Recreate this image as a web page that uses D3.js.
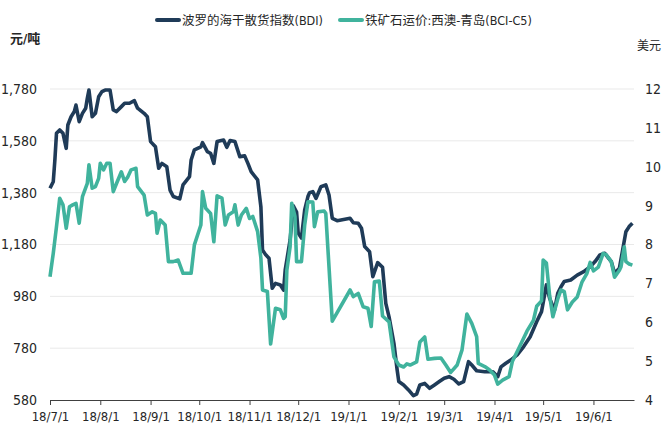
<!DOCTYPE html>
<html>
<head>
<meta charset="utf-8">
<script src="https://cdn.jsdelivr.net/npm/d3@7"></script>
<style>
  body { margin: 0; background: #fff; }
  text { font-family: "Liberation Sans Narrow", "DejaVu Sans Condensed", "Noto Sans CJK SC", sans-serif; fill: #262626; }
</style>
</head>
<body>
<div id="chart"></div>
<script>
const W = 663, H = 430
const plot = { left: 50, right: 634, top: 89, bottom: 400 }

const seriesNames = ["波罗的海干散货指数(BDI)", "铁矿石运价:西澳-青岛(BCI-C5)"]
const seriesColors = ["#1f3b58", "#40b39d"]
const leftTicks = [580, 780, 980, 1180, 1380, 1580, 1780]
const rightTicks = [4, 5, 6, 7, 8, 9, 10, 11, 12]

const bdiDates = ["2018-07-01","2018-07-03","2018-07-04","2018-07-05","2018-07-07","2018-07-09","2018-07-11","2018-07-12","2018-07-14","2018-07-16",
  "2018-07-17","2018-07-19","2018-07-21","2018-07-23","2018-07-24","2018-07-25","2018-07-27","2018-07-29","2018-07-31","2018-08-02",
  "2018-08-04","2018-08-07","2018-08-09","2018-08-11","2018-08-14","2018-08-16","2018-08-19","2018-08-22","2018-08-24","2018-08-28",
  "2018-08-30","2018-09-01","2018-09-04","2018-09-06","2018-09-08","2018-09-11","2018-09-13","2018-09-15","2018-09-19","2018-09-21",
  "2018-09-25","2018-09-26","2018-09-28","2018-10-02","2018-10-03","2018-10-06","2018-10-08","2018-10-10","2018-10-12","2018-10-16",
  "2018-10-18","2018-10-20","2018-10-23","2018-10-26","2018-10-29","2018-10-31","2018-11-02","2018-11-06","2018-11-08","2018-11-09",
  "2018-11-11","2018-11-13","2018-11-15","2018-11-17","2018-11-20","2018-11-22","2018-11-23","2018-11-26","2018-11-28","2018-11-30",
  "2018-12-01","2018-12-03","2018-12-05","2018-12-07","2018-12-08","2018-12-10","2018-12-12","2018-12-15","2018-12-18","2018-12-20",
  "2018-12-22","2018-12-25","2019-01-02","2019-01-04","2019-01-07","2019-01-09","2019-01-11","2019-01-14","2019-01-16","2019-01-19",
  "2019-01-22","2019-01-24","2019-01-26","2019-01-29","2019-01-31","2019-02-01","2019-02-04","2019-02-07","2019-02-10","2019-02-12",
  "2019-02-14","2019-02-17","2019-02-20","2019-02-23","2019-02-26","2019-03-01","2019-03-04","2019-03-07","2019-03-10","2019-03-13",
  "2019-03-16","2019-03-18","2019-03-21","2019-03-26","2019-03-31","2019-04-03","2019-04-05","2019-04-08","2019-04-11","2019-04-15",
  "2019-04-19","2019-04-23","2019-04-27","2019-04-30","2019-05-03","2019-05-05","2019-05-08","2019-05-10","2019-05-12","2019-05-14",
  "2019-05-18","2019-05-22","2019-05-26","2019-05-30","2019-06-02","2019-06-05","2019-06-08","2019-06-12","2019-06-14","2019-06-17",
  "2019-06-19","2019-06-21","2019-06-23","2019-06-25"]
const bdiValues = [1397,1422,1506,1609,1622,1609,1551,1641,1673,1693,
  1718,1654,1686,1706,1744,1776,1673,1686,1750,1770,
  1776,1776,1699,1693,1712,1725,1725,1735,1706,1686,
  1673,1577,1557,1474,1493,1480,1390,1365,1356,1410,
  1442,1506,1545,1557,1573,1538,1532,1493,1577,1583,
  1555,1581,1577,1519,1522,1493,1461,1429,1326,1159,
  1140,1127,1011,1030,1024,1004,1082,1197,1329,1305,
  1224,1205,1313,1365,1380,1384,1358,1403,1410,1371,
  1281,1272,1281,1264,1262,1243,1172,1152,1056,1110,
  1092,953,901,799,696,651,638,619,597,603,
  638,644,625,638,651,664,670,660,642,651,
  728,715,693,689,689,670,708,722,734,754,
  786,824,882,921,1024,972,927,992,1017,1037,
  1043,1062,1075,1094,1114,1140,1146,1114,1069,1088,
  1159,1229,1249,1262]

const c5Dates = ["2018-07-01","2018-07-03","2018-07-05","2018-07-07","2018-07-09","2018-07-11","2018-07-13","2018-07-15","2018-07-17","2018-07-19",
  "2018-07-21","2018-07-24","2018-07-25","2018-07-27","2018-07-29","2018-07-31","2018-08-01","2018-08-03","2018-08-05","2018-08-07",
  "2018-08-09","2018-08-11","2018-08-14","2018-08-16","2018-08-18","2018-08-20","2018-08-23","2018-08-24","2018-08-28","2018-08-30",
  "2018-09-02","2018-09-04","2018-09-05","2018-09-07","2018-09-10","2018-09-12","2018-09-15","2018-09-18","2018-09-21","2018-09-26",
  "2018-09-28","2018-10-02","2018-10-03","2018-10-05","2018-10-08","2018-10-10","2018-10-12","2018-10-15","2018-10-17","2018-10-19",
  "2018-10-22","2018-10-23","2018-10-25","2018-10-27","2018-10-30","2018-11-01","2018-11-03","2018-11-06","2018-11-08","2018-11-09",
  "2018-11-12","2018-11-14","2018-11-17","2018-11-20","2018-11-22","2018-11-23","2018-11-24","2018-11-26","2018-11-27","2018-11-29",
  "2018-11-30","2018-12-03","2018-12-05","2018-12-07","2018-12-10","2018-12-11","2018-12-13","2018-12-17","2018-12-18","2018-12-22",
  "2019-01-02","2019-01-04","2019-01-07","2019-01-10","2019-01-13","2019-01-15","2019-01-17","2019-01-20","2019-01-22","2019-01-26",
  "2019-01-29","2019-02-01","2019-02-04","2019-02-06","2019-02-08","2019-02-12","2019-02-14","2019-02-17","2019-02-19","2019-02-23",
  "2019-02-27","2019-03-02","2019-03-05","2019-03-09","2019-03-12","2019-03-15","2019-03-18","2019-03-21","2019-03-22","2019-03-26",
  "2019-03-29","2019-04-01","2019-04-03","2019-04-06","2019-04-10","2019-04-12","2019-04-16","2019-04-21","2019-04-25","2019-04-27",
  "2019-04-30","2019-05-01","2019-05-03","2019-05-05","2019-05-07","2019-05-10","2019-05-12","2019-05-14","2019-05-16","2019-05-19",
  "2019-05-22","2019-05-25","2019-05-28","2019-05-30","2019-06-01","2019-06-04","2019-06-07","2019-06-09","2019-06-12","2019-06-14",
  "2019-06-17","2019-06-18","2019-06-20","2019-06-21","2019-06-23","2019-06-25"]
const c5Values = [7.17,7.77,8.46,9.19,9.02,8.42,8.97,9.02,9.06,8.55,
  9.23,9.57,10.05,9.45,9.49,9.70,10.09,9.92,10.09,10.09,
  9.36,9.57,9.87,9.62,9.74,9.92,9.96,9.49,9.27,8.76,
  8.84,8.80,8.29,8.63,8.50,7.56,7.56,7.60,7.26,7.26,
  7.99,8.50,9.36,8.93,8.80,8.07,9.25,9.19,8.50,8.76,
  8.84,9.02,8.50,8.76,8.93,8.67,8.72,8.33,7.65,6.83,
  6.79,5.44,6.36,6.32,6.10,6.14,7.34,7.94,9.06,8.72,
  7.56,7.56,8.50,9.10,9.09,8.46,8.84,8.86,8.80,6.03,
  6.83,6.66,6.74,6.40,6.36,5.89,7.04,7.06,6.16,6.01,
  5.11,4.90,4.85,4.93,4.90,4.98,5.49,5.62,5.05,5.07,
  5.08,4.90,4.71,4.90,5.29,6.21,5.97,5.63,4.94,4.86,
  4.77,4.64,4.41,4.51,4.60,4.99,5.33,5.77,6.05,6.41,
  6.55,7.60,7.52,6.68,6.14,6.60,6.83,6.79,6.32,6.52,
  6.65,7.04,7.26,7.54,7.32,7.42,7.77,7.73,7.56,7.16,
  7.34,7.43,7.94,7.56,7.50,7.47]

const parse = d3.timeParse("%Y-%m-%d")
const bdi = bdiDates.map((d, i) => ({ date: parse(d), value: bdiValues[i] }))
const c5 = c5Dates.map((d, i) => ({ date: parse(d), value: c5Values[i] }))

const svg = d3.select("#chart").append("svg")
    .attr("width", W)
    .attr("height", H)

svg.append("rect").attr("width", W).attr("height", H).attr("fill", "#fff")

const x = d3.scaleTime()
    .domain([parse("2018-07-01"), parse("2019-06-26")])
    .range([plot.left, plot.right])
const yLeft = d3.scaleLinear().domain([580, 1780]).range([plot.bottom, plot.top])
const yRight = d3.scaleLinear().domain([4, 12]).range([plot.bottom, plot.top])

// gridlines
svg.append("g").selectAll("line")
    .data(leftTicks.slice(1))
    .join("line")
    .attr("x1", plot.left).attr("x2", plot.right)
    .attr("y1", d => yLeft(d)).attr("y2", d => yLeft(d))
    .attr("stroke", "#e9e9e9")
    .attr("stroke-width", 1)

// left axis labels
const leftAxis = svg.append("g")
    .attr("transform", `translate(${plot.left - 13},0)`)
    .call(d3.axisLeft(yLeft).tickValues(leftTicks).tickFormat(d3.format(",")).tickSize(0).tickPadding(0))
leftAxis.select(".domain").remove()
leftAxis.selectAll("text").style("font-size", "14px").attr("fill", "#262626")

// right axis labels
const rightAxis = svg.append("g")
    .attr("transform", `translate(${plot.right + 11},0)`)
    .call(d3.axisRight(yRight).tickValues(rightTicks).tickSize(0).tickPadding(0))
rightAxis.select(".domain").remove()
rightAxis.selectAll("text").style("font-size", "14px").attr("fill", "#262626")

// bottom axis
const xAxis = svg.append("g")
    .attr("transform", `translate(0,${plot.bottom})`)
    .call(d3.axisBottom(x)
        .ticks(d3.timeMonth.every(1))
        .tickFormat(d3.timeFormat("%y/%-m/%-d"))
        .tickSize(5)
        .tickSizeOuter(0)
        .tickPadding(7))
xAxis.select(".domain").attr("stroke", "#404040")
xAxis.selectAll(".tick line").attr("stroke", "#404040")
xAxis.selectAll("text").style("font-size", "13px").attr("fill", "#262626")

// lines
const lineLeft = d3.line().x(d => x(d.date)).y(d => yLeft(d.value))
const lineRight = d3.line().x(d => x(d.date)).y(d => yRight(d.value))

svg.append("path").datum(bdi)
    .attr("d", lineLeft)
    .attr("fill", "none")
    .attr("stroke", seriesColors[0])
    .attr("stroke-width", 3.6)
    .attr("stroke-linejoin", "round")

svg.append("path").datum(c5)
    .attr("d", lineRight)
    .attr("fill", "none")
    .attr("stroke", seriesColors[1])
    .attr("stroke-width", 3.6)
    .attr("stroke-linejoin", "round")

// unit labels
svg.append("text").text("元/吨")
    .attr("x", 10).attr("y", 43)
    .style("font-size", "13px").style("font-weight", "bold")
svg.append("text").text("美元")
    .attr("x", 637).attr("y", 50)
    .style("font-size", "12px")

// legend
const legendX = [157, 340]
const legend = svg.append("g")
seriesNames.forEach((name, i) => {
    legend.append("line")
        .attr("x1", legendX[i]).attr("x2", legendX[i] + 22)
        .attr("y1", 20).attr("y2", 20)
        .attr("stroke", seriesColors[i])
        .attr("stroke-width", 4)
        .attr("stroke-linecap", "round")
    legend.append("text").text(name)
        .attr("x", legendX[i] + 25).attr("y", 24.5)
        .style("font-size", "12.5px")
})
</script>
</body>
</html>
